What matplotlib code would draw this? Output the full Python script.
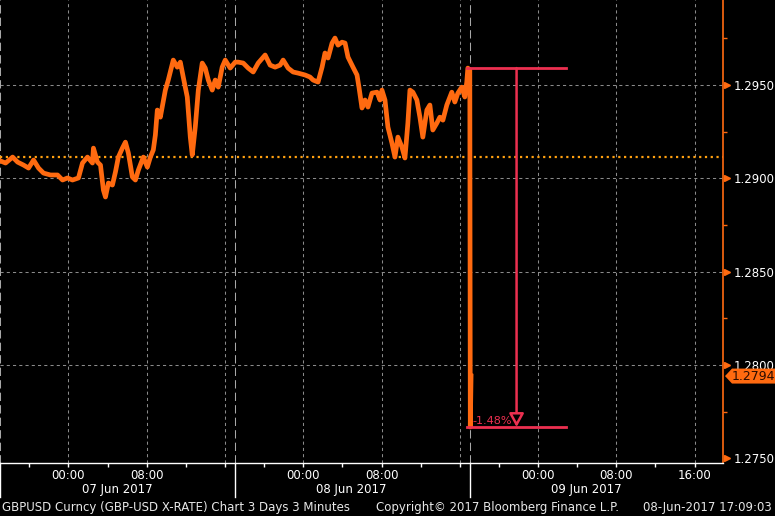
import numpy as np
import matplotlib
matplotlib.use("Agg")
import matplotlib.pyplot as plt
import matplotlib.transforms as mtransforms
from matplotlib.patches import Polygon

# ---------------------------------------------------------------------------
# DATA  (hours from 00:00 07 Jun 2017, New York time)
# ---------------------------------------------------------------------------
hours = [
    -6.94, -6.43, -5.71, -5.20, -4.59, -4.08, -3.57, -3.06, -2.55, -1.84,
    -1.12, -0.61, -0.10, 0.41, 1.02, 1.43, 1.94, 2.45, 2.55, 2.96,
    3.27, 3.57, 3.78, 4.08, 4.49, 4.80, 5.10, 5.51, 5.82, 6.12,
    6.53, 6.84, 7.14, 7.65, 8.06, 8.37, 8.67, 8.88, 9.08, 9.39,
    9.90, 10.20, 10.71, 11.12, 11.43, 11.73, 12.14, 12.45, 12.65, 12.96,
    13.27, 13.67, 13.98, 14.29, 14.69, 15.00, 15.31, 15.71, 16.02, 16.53,
    17.04, 17.35, 17.86, 18.37, 18.88, 19.39, 20.10, 20.61, 21.12, 21.63,
    21.94, 22.45, 22.96, 23.47, 24.18, 24.69, 25.00, 25.51, 25.92, 26.22,
    26.53, 26.94, 27.24, 27.55, 27.96, 28.27, 28.57, 29.08, 29.49, 29.69,
    30.00, 30.31, 30.61, 31.02, 31.53, 31.84, 32.04, 32.35, 32.65, 33.06,
    33.37, 33.67, 34.08, 34.39, 34.69, 34.90, 35.20, 35.61, 35.92, 36.22,
    36.63, 36.94, 37.24, 37.65, 37.96, 38.27, 38.67, 39.18, 39.49, 39.80,
    40.20, 40.51, 40.71, 40.82, 41.02, 41.07, 41.15,
]
prices = [
    1.29093, 1.29082, 1.29114, 1.29087, 1.29071, 1.29055, 1.29098, 1.29055, 1.29028, 1.29018,
    1.29018, 1.28991, 1.29002, 1.28991, 1.29002, 1.29082, 1.29114, 1.29082, 1.29162, 1.29087,
    1.29071, 1.28937, 1.28900, 1.28975, 1.28964, 1.29034, 1.29114, 1.29162, 1.29194, 1.29136,
    1.29007, 1.28991, 1.29044, 1.29114, 1.29060, 1.29114, 1.29152, 1.29232, 1.29366, 1.29328,
    1.29473, 1.29527, 1.29634, 1.29596, 1.29623, 1.29543, 1.29436, 1.29221, 1.29125, 1.29275,
    1.29473, 1.29618, 1.29591, 1.29527, 1.29473, 1.29527, 1.29489, 1.29596, 1.29634, 1.29591,
    1.29623, 1.29623, 1.29618, 1.29591, 1.29570, 1.29618, 1.29661, 1.29607, 1.29596, 1.29607,
    1.29634, 1.29591, 1.29570, 1.29564, 1.29554, 1.29543, 1.29527, 1.29516, 1.29596, 1.29672,
    1.29645, 1.29725, 1.29752, 1.29714, 1.29730, 1.29725, 1.29650, 1.29596, 1.29554, 1.29489,
    1.29377, 1.29420, 1.29382, 1.29457, 1.29462, 1.29420, 1.29473, 1.29420, 1.29275, 1.29189,
    1.29114, 1.29221, 1.29168, 1.29109, 1.29296, 1.29473, 1.29462, 1.29420, 1.29328, 1.29221,
    1.29366, 1.29393, 1.29259, 1.29296, 1.29328, 1.29312, 1.29393, 1.29462, 1.29409, 1.29457,
    1.29489, 1.29436, 1.29516, 1.29591, 1.29580, 1.27667, 1.27940,
]
prev_close = 1.29113

y_ticks = [1.2750, 1.2800, 1.2850, 1.2900, 1.2950]
y_minor = [1.2775, 1.2825, 1.2875, 1.2925, 1.2975]
hour_ticks = [0, 8, 24, 32, 48, 56, 64]
hour_labels = ["00:00", "08:00", "00:00", "08:00", "00:00", "08:00", "16:00"]
grid_hours = [0, 8, 16, 24, 32, 40, 48, 56, 64]
day_breaks = [-7, 17, 41]
day_labels = ["07 Jun 2017", "08 Jun 2017", "09 Jun 2017"]
day_label_pos = [5.0, 28.9, 52.9]

ORANGE = "#ff6a10"
DOTS = "#ffa010"
RED = "#ec3050"
GRID = "#8a8a8a"

W, H = 775, 516
fig = plt.figure(figsize=(W / 100, H / 100), dpi=100, facecolor="black")
ax = fig.add_axes([0, 53 / H, 723 / W, 463 / H], facecolor="black")
ax.set_xlim(-7.0, 66.9)
ax.set_ylim(1.27474, 1.29956)

blend_xa = mtransforms.blended_transform_factory(ax.transAxes, ax.transData)
blend_ax = mtransforms.blended_transform_factory(ax.transData, ax.transAxes)

# grid
for yv in y_ticks[1:]:
    ax.axhline(yv, color=GRID, lw=0.75, ls=(0, (3, 3)), zorder=1)
for hv in grid_hours:
    ax.axvline(hv, color=GRID, lw=0.75, ls=(0, (3, 3)), zorder=1)
for hv in day_breaks:
    ax.axvline(hv, color="#a8a8a8", lw=0.75, ls=(0, (8, 4)), zorder=1)
    ax.plot([hv, hv], [0, -34 / 463], color="white", lw=1,
            transform=blend_ax, clip_on=False)

ax.axhline(prev_close, color=DOTS, lw=1.6, ls=(0, (1, 1.6)), zorder=2)

hours = np.array(hours)
prices = np.array(prices)
ax.plot(hours, prices, color=ORANGE, lw=3.4, solid_joinstyle="round", zorder=3)

# drop annotation
pre = prices[(hours > 40.5) & (hours < 41.05)].max()
low = prices.min()
pct = (low / pre - 1) * 100
ax.plot([40.75, 50.9], [pre, pre], color=RED, lw=2, zorder=4)
ax.plot([40.75, 50.9], [low, low], color=RED, lw=2, zorder=4)
ax.annotate("", xy=(45.8, low), xytext=(45.8, pre),
            arrowprops=dict(arrowstyle="-|>,head_length=1.0,head_width=0.55",
                            mutation_scale=8, fc="black", ec=RED, lw=1.8,
                            shrinkA=0, shrinkB=0), zorder=4)
ax.text(45.3, low + 0.00008, f"{pct:.2f}%", color=RED, fontsize=8,
        ha="right", va="bottom", zorder=5)

# axes styling
for side in ["top", "left"]:
    ax.spines[side].set_visible(False)
ax.spines["right"].set_color(ORANGE)
ax.spines["right"].set_linewidth(1.2)
ax.spines["bottom"].set_color("white")
ax.spines["bottom"].set_linewidth(1)

ax.yaxis.tick_right()
ax.set_yticks(y_ticks)
ax.set_yticklabels([f"{v:.4f}" for v in y_ticks])
ax.set_yticks(y_minor, minor=True)
ax.tick_params(axis="y", which="major", length=0, pad=8, labelsize=8.5,
               labelcolor="white")
ax.tick_params(axis="y", which="minor", length=3, width=1, color=ORANGE)
ax.plot(np.full(len(y_ticks), 1 + 4 / 723), y_ticks, ls="none", marker=">",
        ms=5, color=ORANGE, transform=blend_xa, clip_on=False)

ax.set_xticks(np.arange(-4, 67, 4))
ax.set_xticklabels([hour_labels[hour_ticks.index(t)] if t in hour_ticks else ""
                    for t in np.arange(-4, 67, 4)])
ax.tick_params(axis="x", length=3, width=1, color="white", pad=1,
               labelsize=8.5, labelcolor="white")

for pos, lab in zip(day_label_pos, day_labels):
    ax.text(pos, -27 / 463, lab, color="white", fontsize=8.5, ha="center",
            va="center", transform=blend_ax, clip_on=False)

# last price tag, drawn over the 1.2800 label as in the terminal
last = prices[-1]
dy = 7.5 / 463 * (1.29956 - 1.27474)
tag = Polygon([(1 + 2 / 723, last), (1 + 9 / 723, last + dy), (1 + 53 / 723, last + dy),
               (1 + 53 / 723, last - dy), (1 + 9 / 723, last - dy)],
              closed=True, fc=ORANGE, ec="none", transform=blend_xa,
              clip_on=False, zorder=6)
ax.add_patch(tag)
ax.text(1 + 30 / 723, last, f"{last:.4f}", color="#2a0c00", fontsize=9,
        ha="center", va="center", transform=blend_xa, clip_on=False, zorder=7)

# footer
fy = 1 - 508 / H
fig.text(2 / W, fy, "GBPUSD Curncy (GBP-USD X-RATE) Chart 3 Days 3 Minutes",
         color="#e8e8e8", fontsize=8.5, va="center")
fig.text(376 / W, fy, "Copyright\u00a9 2017 Bloomberg Finance L.P.",
         color="#e8e8e8", fontsize=8.5, va="center")
fig.text(772 / W, fy, "08-Jun-2017 17:09:03", color="#e8e8e8", fontsize=8.5,
         va="center", ha="right")

fig.savefig("out.png", dpi=100, facecolor="black")
